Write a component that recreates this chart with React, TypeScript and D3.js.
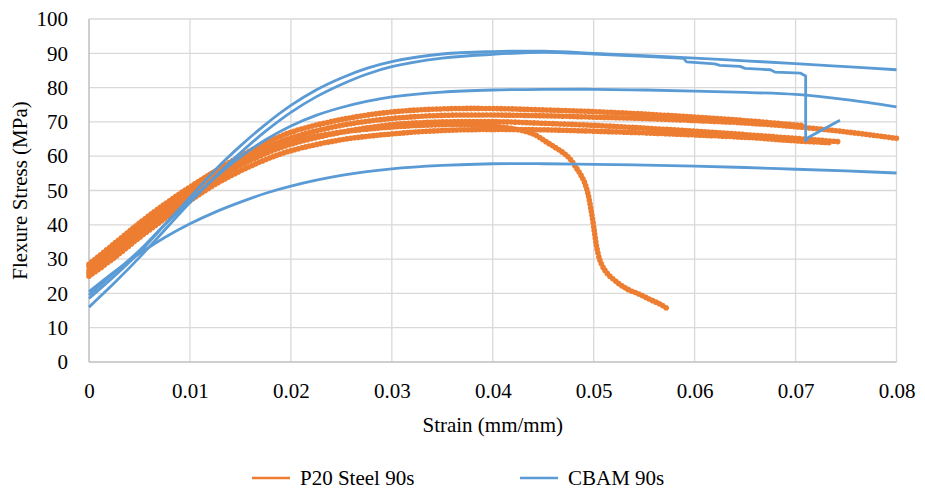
import React, { useEffect, useRef } from 'react'
import * as d3 from 'd3'

const xTicks = [0, 0.01, 0.02, 0.03, 0.04, 0.05, 0.06, 0.07, 0.08]
const yTicks = [0, 10, 20, 30, 40, 50, 60, 70, 80, 90, 100]
const seriesNames = ['P20 Steel 90s', 'CBAM 90s']

// [strain, stress]
const p20Run1 = [[0, 27.8], [0.0025, 33.8], [0.005, 39.8], [0.0075, 45.3], [0.01, 50.6], [0.0125, 55.6], [0.015, 60], [0.0175, 63.8], [0.02, 67], [0.025, 70.7], [0.03, 72.9], [0.035, 73.8], [0.04, 73.9], [0.045, 73.5], [0.05, 73], [0.055, 72.3], [0.06, 71.4], [0.065, 70.4], [0.0708, 68.9]]
const p20Run2 = [[0, 26.6], [0.0025, 32.6], [0.005, 38.6], [0.0075, 44.1], [0.01, 49.4], [0.0125, 54.3], [0.015, 58.6], [0.0175, 62.3], [0.02, 65.3], [0.025, 69], [0.03, 71], [0.035, 71.9], [0.04, 72], [0.045, 71.8], [0.05, 71.4], [0.055, 71], [0.06, 70.4], [0.065, 69.7], [0.07, 68.6], [0.075, 67.1], [0.08, 65.2]]
const p20Run3 = [[0, 25.8], [0.0025, 31.5], [0.005, 37.5], [0.0075, 43], [0.01, 48.3], [0.0125, 53.2], [0.015, 57.3], [0.0175, 60.8], [0.02, 63.5], [0.025, 67], [0.03, 69.2], [0.035, 70], [0.04, 70.1], [0.045, 69.6], [0.05, 69], [0.055, 68.2], [0.06, 67.3], [0.065, 66.3], [0.07, 65.2], [0.0744, 64.2]]
const p20Run4 = [[0, 28.5], [0.0025, 34.5], [0.005, 40.5], [0.0075, 46], [0.01, 51], [0.0125, 55.5], [0.015, 59], [0.0175, 62], [0.02, 64.3], [0.025, 67], [0.03, 68.5], [0.035, 69.2], [0.038, 69.2], [0.04, 68.8], [0.042, 68], [0.044, 66.5], [0.0454, 64], [0.0474, 60], [0.0483, 56.5], [0.049, 53], [0.0494, 49.5], [0.0497, 45], [0.05, 39.5], [0.0503, 33.5], [0.0507, 29], [0.0513, 26], [0.0525, 22.8], [0.0535, 21], [0.0545, 19.8], [0.0556, 18.2], [0.0565, 17], [0.0574, 15.4]]
const p20Run5 = [[0, 25], [0.0025, 30.4], [0.005, 36.3], [0.0075, 41.8], [0.01, 47], [0.0125, 51.8], [0.015, 55.7], [0.0175, 59], [0.02, 61.6], [0.025, 64.8], [0.03, 66.5], [0.035, 67.5], [0.04, 67.8], [0.045, 67.7], [0.05, 67.3], [0.055, 66.8], [0.06, 66.2], [0.065, 65.5], [0.07, 64.5], [0.0735, 63.9]]

const cbamRun1 = [[0, 18.5], [0.0025, 25], [0.005, 32], [0.0075, 40], [0.01, 48], [0.0125, 56], [0.015, 63], [0.0175, 69.3], [0.02, 74.8], [0.0225, 79.3], [0.025, 82.8], [0.0275, 85.6], [0.03, 87.6], [0.035, 89.8], [0.04, 90.5], [0.045, 90.6], [0.05, 90], [0.055, 89.3], [0.06, 88.6], [0.065, 87.8], [0.07, 87], [0.075, 86.1], [0.08, 85.2]]
const cbamRun2 = [[0, 16], [0.0025, 23], [0.005, 30.5], [0.0075, 38.5], [0.01, 46.5], [0.0125, 54], [0.015, 61], [0.0175, 67.3], [0.02, 72.8], [0.0225, 77.3], [0.025, 80.9], [0.0275, 83.9], [0.03, 86.1], [0.035, 88.6], [0.04, 89.7], [0.045, 90.3], [0.05, 89.8], [0.055, 89.1], [0.0589, 88.5], [0.0592, 87.5], [0.062, 86.9], [0.0625, 86.5], [0.0645, 86.2], [0.065, 85.6], [0.0675, 85.2], [0.068, 84.5], [0.0705, 84.2], [0.071, 83.4], [0.071, 64.5], [0.0713, 65.5], [0.0744, 70.5]]
const cbamRun3 = [[0, 19.5], [0.0025, 26], [0.005, 32.5], [0.0075, 40], [0.01, 47], [0.0125, 53.8], [0.015, 59.8], [0.0175, 64.8], [0.02, 68.8], [0.0225, 71.9], [0.025, 74.2], [0.0275, 76], [0.03, 77.3], [0.035, 78.7], [0.04, 79.3], [0.045, 79.5], [0.05, 79.5], [0.055, 79.3], [0.06, 79], [0.065, 78.6], [0.07, 78], [0.075, 76.5], [0.08, 74.4]]
const cbamRun4 = [[0, 20.5], [0.0025, 26.3], [0.005, 31.6], [0.0075, 36.3], [0.01, 40.3], [0.0125, 43.7], [0.015, 46.6], [0.0175, 49.2], [0.02, 51.3], [0.025, 54.4], [0.03, 56.3], [0.035, 57.3], [0.04, 57.8], [0.045, 57.8], [0.05, 57.6], [0.055, 57.4], [0.06, 57.1], [0.065, 56.7], [0.07, 56.2], [0.075, 55.7], [0.08, 55.1]]

const p20Runs = [p20Run1, p20Run2, p20Run3, p20Run4, p20Run5]
const cbamRuns = [cbamRun1, cbamRun3, cbamRun4]

const ORANGE = '#ED7D31'
const BLUE = '#5B9BD5'
const FONT = "'Liberation Serif', 'Times New Roman', Tinos, 'DejaVu Serif', serif"

export default function App() {
    const svgRef = useRef<SVGSVGElement>(null)

    useEffect(() => {
        const svg = d3.select(svgRef.current)
        svg.selectAll('*').remove()

        const x = d3.scaleLinear().domain([0, 0.08]).range([89, 896.5])
        const y = d3.scaleLinear().domain([0, 100]).range([362, 19])

        // grid
        svg.append('g').selectAll('line')
            .data(yTicks.slice(1))
            .enter().append('line')
            .attr('x1', x(0)).attr('x2', x(0.08))
            .attr('y1', d => y(d)).attr('y2', d => y(d))
            .attr('stroke', '#d9d9d9').attr('stroke-width', 1.3)
        svg.append('g').selectAll('line')
            .data(xTicks.slice(1))
            .enter().append('line')
            .attr('x1', d => x(d)).attr('x2', d => x(d))
            .attr('y1', y(0)).attr('y2', y(100))
            .attr('stroke', '#d9d9d9').attr('stroke-width', 1.3)

        // axis lines
        svg.append('line')
            .attr('x1', x(0)).attr('x2', x(0)).attr('y1', y(0)).attr('y2', y(100))
            .attr('stroke', '#bfbfbf').attr('stroke-width', 1.5)
        svg.append('line')
            .attr('x1', x(0)).attr('x2', x(0.08)).attr('y1', y(0)).attr('y2', y(0))
            .attr('stroke', '#bfbfbf').attr('stroke-width', 1.5)

        const xAxis = d3.axisBottom(x).tickValues(xTicks).tickSize(0).tickPadding(21)
            .tickFormat(d => String(d))
        const yAxis = d3.axisLeft(y).tickValues(yTicks).tickSize(0).tickPadding(21)
            .tickFormat(d => String(d))

        svg.append('g')
            .attr('transform', `translate(0, ${y(0)})`)
            .call(xAxis)
            .call(g => g.select('.domain').remove())
            .attr('font-family', null)
            .selectAll('text')
            .style('font-family', FONT).style('font-size', '21px').attr('fill', '#000')
        svg.append('g')
            .attr('transform', `translate(${x(0)}, 0)`)
            .call(yAxis)
            .call(g => g.select('.domain').remove())
            .attr('font-family', null)
            .selectAll('text')
            .style('font-family', FONT).style('font-size', '21px').attr('fill', '#000')

        const line = d3.line<number[]>()
            .x(d => x(d[0]))
            .y(d => y(d[1]))
            .curve(d3.curveCatmullRom.alpha(0.5))
        const stepLine = d3.line<number[]>()
            .x(d => x(d[0]))
            .y(d => y(d[1]))

        // P20 steel runs: thick line with bumpy edges
        const orange = svg.append('g')
        p20Runs.forEach(run => {
            orange.append('path')
                .attr('d', line(run))
                .attr('fill', 'none').attr('stroke', ORANGE)
                .attr('stroke-width', 3.2).attr('stroke-linejoin', 'round')
            orange.append('path')
                .attr('d', line(run))
                .attr('fill', 'none').attr('stroke', ORANGE)
                .attr('stroke-width', 5.6).attr('stroke-linecap', 'round')
                .attr('stroke-dasharray', '0 3.8')
        })

        const blue = svg.append('g')
        cbamRuns.forEach(run => {
            blue.append('path')
                .attr('d', line(run))
                .attr('fill', 'none').attr('stroke', BLUE)
                .attr('stroke-width', 2.8).attr('stroke-linejoin', 'round')
        })
        // run with the load drop: keep its corners
        blue.append('path')
            .attr('d', line(cbamRun2.slice(0, 19)) +
                stepLine(cbamRun2.slice(18))!.replace(/^M/, 'L'))
            .attr('fill', 'none').attr('stroke', BLUE)
            .attr('stroke-width', 2.8).attr('stroke-linejoin', 'round')

        // axis titles
        svg.append('text')
            .attr('x', (x(0) + x(0.08)) / 2).attr('y', 432)
            .attr('text-anchor', 'middle')
            .style('font-family', FONT).style('font-size', '21px')
            .text('Strain (mm/mm)')
        svg.append('text')
            .attr('transform', `translate(27, ${(y(0) + y(100)) / 2}) rotate(-90)`)
            .attr('text-anchor', 'middle')
            .style('font-family', FONT).style('font-size', '21px')
            .text('Flexure Stress (MPa)')

        // legend
        const legend = svg.append('g')
        const legendX = [252, 520]
        const colors = [ORANGE, BLUE]
        seriesNames.forEach((name, i) => {
            legend.append('line')
                .attr('x1', legendX[i]).attr('x2', legendX[i] + 38)
                .attr('y1', 478).attr('y2', 478)
                .attr('stroke', colors[i]).attr('stroke-width', 2.5)
            legend.append('text')
                .attr('x', legendX[i] + 48).attr('y', 478).attr('dy', '0.35em')
                .style('font-family', FONT).style('font-size', '21px')
                .text(name)
        })
    }, [])

    return (
        <svg ref={svgRef} width={925} height={490}
             style={{ position: 'absolute', left: 0, top: 0, background: '#fff' }} />
    )
}
